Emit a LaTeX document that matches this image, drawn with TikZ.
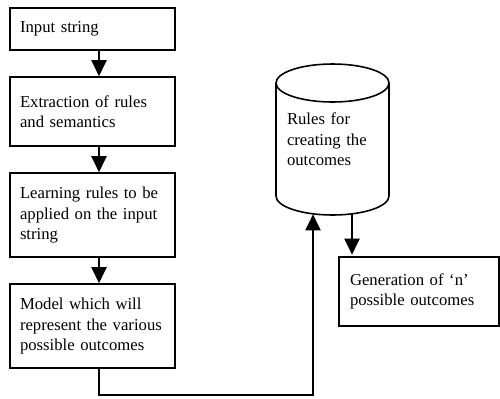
\documentclass[tikz,border=0pt]{standalone}
\usepackage{fontspec}
\setmainfont{Liberation Serif}
\usetikzlibrary{arrows.meta}

\tikzset{
  stagebox/.style={draw=black, line width=0.9pt, rectangle, align=left, inner xsep=0.2cm, text width=2.9cm, font=\fontsize{9.5}{11.6}\selectfont},
  flowarrow/.style={line width=1.1pt, -{Triangle[length=0.32cm,width=0.3cm]}}
}

\begin{document}
\begin{tikzpicture}
\useasboundingbox (0,0) rectangle (10,-7.96);

% Steps on the left
\node[stagebox, minimum height=0.84cm] (input) at (1.85,-0.58) {Input string};
\node[stagebox, minimum height=1.38cm] (extract) at (1.85,-2.23) {Extraction of rules\\and semantics};
\node[stagebox, minimum height=1.68cm] (learn) at (1.85,-4.30) {Learning rules to be\\applied on the input\\string};
\node[stagebox, minimum height=1.68cm] (model) at (1.85,-6.52) {Model which will\\represent the various\\possible outcomes};

% Rule store (drum)
\node[stagebox, draw=none, text width=1.82cm, inner xsep=0.22cm, minimum height=3.02cm] (rules) at (6.65,-2.79) {Rules for\\creating the\\outcomes};
\draw[line width=0.9pt] (6.65,-1.66) ellipse (1.13 and 0.38);
\draw[line width=0.9pt] (5.52,-1.66) -- (5.52,-3.92) arc (180:360:1.13 and 0.38) -- (7.78,-1.66);

% Outcomes
\node[stagebox, inner xsep=0.22cm, text width=2.76cm, minimum height=1.38cm] (outcomes) at (8.38,-5.83) {Generation of ‘n’\\possible outcomes};

% Arrows down the left
\draw[flowarrow] ([xshift=0.13cm]input.south) -- ([xshift=0.13cm]extract.north);
\draw[flowarrow] ([xshift=0.13cm]extract.south) -- ([xshift=0.13cm]learn.north);
\draw[flowarrow] ([xshift=0.13cm]learn.south) -- ([xshift=0.13cm]model.north);

% Back up to the rules
\draw[flowarrow] ([xshift=0.13cm]model.south) -- ++(0,-0.52) -| ([xshift=-0.39cm,yshift=0.03cm]rules.south);

% Rules to outcomes
\draw[flowarrow] ([xshift=0.39cm,yshift=0.03cm]rules.south) -- ([xshift=0.39cm,yshift=0.03cm]rules.south |- outcomes.north);

\end{tikzpicture}
\end{document}
